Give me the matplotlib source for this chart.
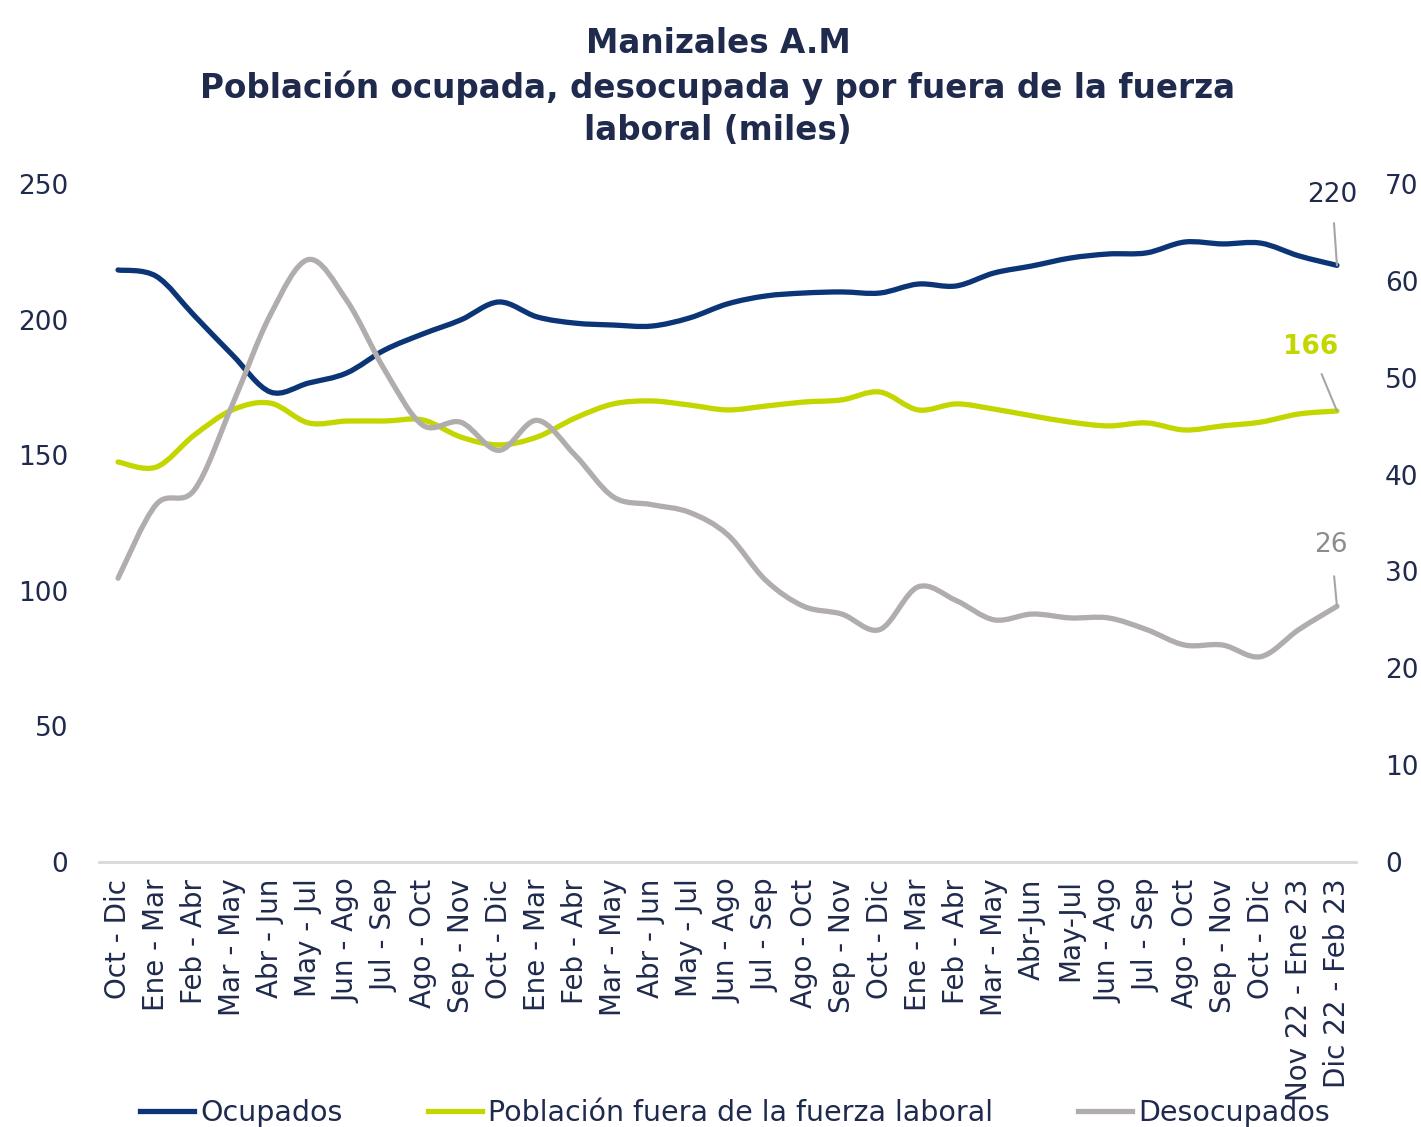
import numpy as np
import matplotlib.pyplot as plt
from matplotlib.path import Path
from matplotlib.patches import PathPatch
from matplotlib.lines import Line2D

plt.rcParams['font.family'] = ['DejaVu Sans']

periodos = ["Oct - Dic", "Ene - Mar", "Feb - Abr", "Mar - May", "Abr - Jun", "May - Jul",
            "Jun - Ago", "Jul - Sep", "Ago - Oct", "Sep - Nov", "Oct - Dic", "Ene - Mar",
            "Feb - Abr", "Mar - May", "Abr - Jun", "May - Jul", "Jun - Ago", "Jul - Sep",
            "Ago - Oct", "Sep - Nov", "Oct - Dic", "Ene - Mar", "Feb - Abr", "Mar - May",
            "Abr-Jun", "May-Jul", "Jun - Ago", "Jul - Sep", "Ago - Oct", "Sep - Nov",
            "Oct - Dic", "Nov 22 - Ene 23", "Dic 22 - Feb 23"]

ocupados = [218.3, 216.0, 201.5, 187.0, 173.3, 176.6, 180.3, 188.8, 194.7, 199.9, 206.5,
            201.0, 198.7, 198.0, 197.6, 200.6, 205.8, 208.7, 209.8, 210.2, 209.8, 213.1,
            212.4, 217.2, 219.8, 222.7, 224.2, 224.6, 228.6, 227.9, 228.2, 223.5, 220.0]

fuera = [147.5, 145.6, 157.4, 166.7, 169.2, 161.9, 162.6, 162.6, 163.0, 156.7, 153.8,
         156.7, 163.7, 168.9, 170.0, 168.5, 166.7, 168.1, 169.6, 170.4, 173.3, 166.7,
         168.9, 167.0, 164.5, 162.2, 160.8, 161.9, 159.3, 160.8, 162.2, 165.2, 166.3]

desocupados = [29.3, 36.9, 38.4, 47.2, 56.5, 62.2, 58.0, 50.8, 45.1, 45.4, 42.5, 45.6,
               42.0, 37.7, 36.9, 36.1, 33.8, 29.1, 26.4, 25.6, 24.0, 28.4, 27.0, 25.0,
               25.6, 25.2, 25.2, 24.0, 22.4, 22.4, 21.2, 24.0, 26.4]

NAVY = "#0b3577"
LIME = "#c4d600"
GRAY = "#b0adac"
TXT = "#1f2a4d"


def smooth_path(x, y):
    # curva suave tipo Excel (Catmull-Rom -> Bezier)
    x = np.asarray(x, float)
    y = np.asarray(y, float)
    pts = np.column_stack([x, y])
    ext = np.vstack([pts[0], pts, pts[-1]])
    verts = [pts[0]]
    codes = [Path.MOVETO]
    for i in range(len(pts) - 1):
        p0, p1, p2, p3 = ext[i], ext[i + 1], ext[i + 2], ext[i + 3]
        c1 = p1 + (p2 - p0) / 6
        c2 = p2 - (p3 - p1) / 6
        verts += [c1, c2, p2]
        codes += [Path.CURVE4] * 3
    return Path(verts, codes)


x = np.arange(len(periodos))

fig = plt.figure(figsize=(14.21, 11.27), dpi=100)
ax = fig.add_axes([99 / 1421, 265 / 1127, 1257 / 1421, 678 / 1127])
ax2 = ax.twinx()

for a, serie, col in [(ax, ocupados, NAVY), (ax, fuera, LIME), (ax2, desocupados, GRAY)]:
    a.add_patch(PathPatch(smooth_path(x, serie), facecolor="none", edgecolor=col,
                          lw=3.8, capstyle="round", joinstyle="round"))

ax.set_xlim(-0.5, len(periodos) - 0.5)
ax.set_ylim(0, 250)
ax2.set_ylim(0, 70)
ax.set_yticks(np.arange(0, 251, 50))
ax2.set_yticks(np.arange(0, 71, 10))
ax.set_xticks(x)
ax.set_xticklabels(periodos, rotation=90, fontsize=20, color=TXT)

for a in (ax, ax2):
    for s in a.spines.values():
        s.set_visible(False)
    a.tick_params(length=0, labelcolor=TXT)
    a.tick_params(axis="y", labelsize=19)
ax.spines["bottom"].set_visible(True)
ax.spines["bottom"].set_color("#d9d9d9")
ax.spines["bottom"].set_linewidth(2)
ax.tick_params(axis="y", pad=22)
ax.tick_params(axis="x", pad=12)
ax2.tick_params(axis="y", pad=21)

# etiquetas del último dato
last = len(periodos) - 1
ax.annotate(f"{ocupados[-1]:.0f}", xy=(last, ocupados[-1]), xytext=(last - 0.13, 246),
            textcoords="data", ha="center", va="center", fontsize=19, color=TXT,
            arrowprops=dict(arrowstyle="-", color="#a6a6a6", lw=1.5, shrinkA=9, shrinkB=0))
ax.annotate(f"{fuera[-1]:.0f}", xy=(last, fuera[-1]), xytext=(last - 0.7, 190),
            textcoords="data", ha="center", va="center", fontsize=19, fontweight="bold",
            color=LIME,
            arrowprops=dict(arrowstyle="-", color="#a6a6a6", lw=1.5, shrinkA=9, shrinkB=0))
ax2.annotate(f"{desocupados[-1]:.0f}", xy=(last, desocupados[-1]), xytext=(last - 0.15, 32.7),
             textcoords="data", ha="center", va="center", fontsize=19, color="#8c8c8c",
             arrowprops=dict(arrowstyle="-", color="#a6a6a6", lw=1.5, shrinkA=11, shrinkB=0))

fig.text(718 / 1421, 1 - 87 / 1127,
         "Manizales A.M\nPoblación ocupada, desocupada y por fuera de la fuerza\nlaboral (miles)",
         ha="center", va="center", fontsize=23.5, fontweight="bold", color=TXT, linespacing=1.38)

handles = [Line2D([], [], color=NAVY, lw=3.8),
           Line2D([], [], color=LIME, lw=3.8),
           Line2D([], [], color=GRAY, lw=3.8)]
leg = fig.legend(handles, ["Ocupados", "Población fuera de la fuerza laboral", "Desocupados"],
                 loc="center", bbox_to_anchor=(735 / 1421, 1 - 1113 / 1127), ncol=3,
                 frameon=False, fontsize=20.5, handlelength=1.9, handletextpad=0.2,
                 columnspacing=3.0)
for t in leg.get_texts():
    t.set_color(TXT)

fig.savefig("out.png", dpi=100)
